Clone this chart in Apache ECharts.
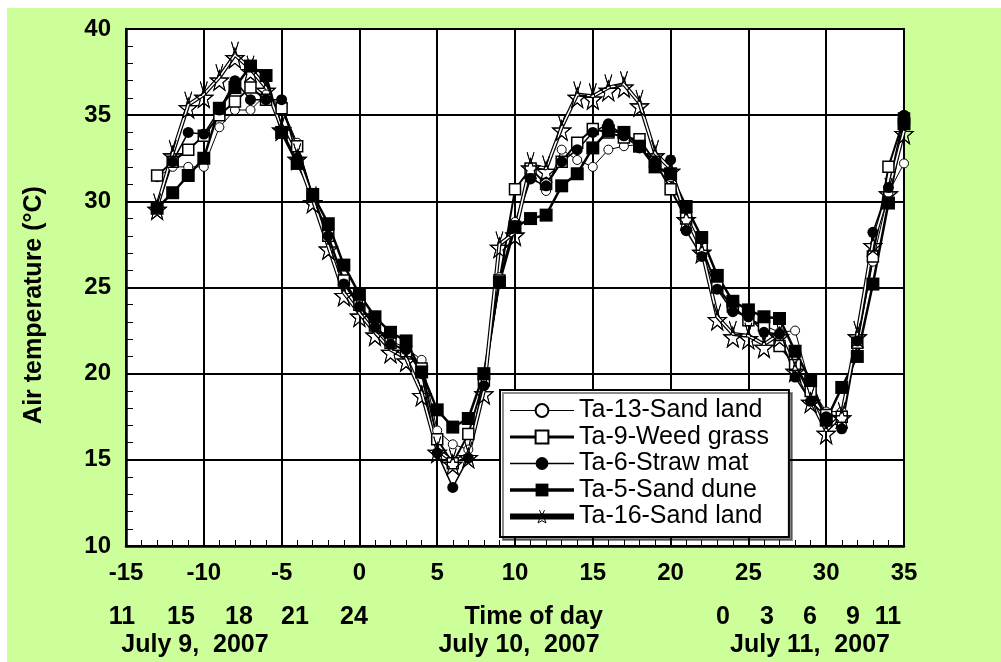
<!DOCTYPE html>
<html>
<head>
<meta charset="utf-8">
<title>Air temperature</title>
<script src="https://cdn.jsdelivr.net/npm/echarts@6/dist/echarts.min.js"></script>
<style>
  html, body { margin: 0; padding: 0; background: #fff; }
  #main { width: 1001px; height: 662px; }
</style>
</head>
<body>
<div id="main"></div>
<script>
var chart = echarts.init(document.getElementById('main'));

// hour index (x axis)
var hourX = [-13, -12, -11, -10, -9, -8, -7, -6, -5, -4, -3, -2, -1, 0, 1, 2, 3, 4, 5, 6, 7, 8, 9, 10,
    11, 12, 13, 14, 15, 16, 17, 18, 19, 20, 21, 22, 23, 24, 25, 26, 27, 28, 29, 30, 31, 32, 33, 34, 35];

var ta13 = [31.4, 32.0, 32.0, 32.0, 34.3, 35.3, 35.3, 36.2, 35.5, 33.4, 30.3, 28.0, 25.3, 23.9, 22.8, 21.9,
    21.5, 20.8, 16.7, 15.9, 15.6, 19.5, 25.6, 28.8, 31.6, 30.6, 33.0, 32.4, 32.0, 33.0, 33.2, 33.3, 32.1,
    31.4, 29.0, 27.4, 25.0, 23.8, 23.2, 22.8, 22.4, 22.5, 19.2, 17.8, 17.8, 21.8, 26.5, 30.5, 32.2];
var ta9 = [31.5, 32.3, 33.0, 33.8, 35.0, 35.8, 36.6, 35.9, 35.4, 33.2, 30.3, 28.0, 25.4, 24.0, 22.8, 21.8,
    21.3, 20.3, 16.2, 14.8, 16.5, 19.6, 25.4, 30.7, 31.9, 31.0, 32.3, 33.4, 34.2, 34.0, 33.7, 33.6, 32.3,
    30.7, 29.0, 27.3, 25.0, 23.9, 23.1, 22.8, 21.6, 20.5, 19.0, 17.6, 17.5, 21.8, 26.8, 32.0, 34.8];
var ta6 = [29.6, 32.3, 34.0, 33.9, 35.3, 37.0, 35.9, 35.9, 35.9, 32.5, 30.3, 28.0, 25.2, 23.9, 22.7, 21.7,
    21.4, 20.0, 15.4, 13.4, 15.1, 19.3, 25.3, 28.6, 31.3, 30.9, 32.3, 33.0, 34.0, 34.5, 33.8, 33.1, 32.3,
    32.4, 28.3, 26.8, 24.9, 23.6, 23.3, 22.4, 22.3, 19.8, 18.4, 17.5, 16.8, 21.9, 28.2, 30.8, 35.0];
var ta5 = [29.6, 30.5, 31.5, 32.5, 35.4, 36.6, 37.85, 37.3, 34.0, 32.2, 30.4, 28.7, 26.3, 24.6, 23.3, 22.4,
    21.9, 20.1, 17.9, 16.9, 17.4, 20.0, 25.3, 28.5, 29.0, 29.2, 30.9, 31.6, 33.1, 34.1, 34.0, 33.2, 32.0,
    31.6, 29.7, 27.9, 25.7, 24.2, 23.7, 23.3, 23.2, 21.3, 19.6, 17.3, 19.2, 21.0, 25.2, 29.9, 34.5];
var ta16 = [29.7, 32.8, 35.6, 36.2, 37.2, 38.5, 37.7, 36.6, 34.3, 32.6, 30.1, 27.4, 24.7, 23.5, 22.4, 21.4,
    20.9, 18.9, 15.6, 14.9, 15.3, 19.0, 27.5, 28.2, 32.1, 31.9, 34.3, 36.2, 36.1, 36.6, 36.8, 35.7, 32.8,
    31.9, 29.1, 27.2, 23.3, 22.3, 22.2, 21.7, 22.3, 20.3, 18.5, 16.7, 17.6, 22.3, 27.6, 30.6, 34.1];

var seriesNames = ['Ta-13-Sand land', 'Ta-9-Weed grass', 'Ta-6-Straw mat', 'Ta-5-Sand dune', 'Ta-16-Sand land'];

// clock hours under the axis, anchored at x-axis values
var hourAt = [-15.26, -11.47, -7.74, -4.14, -0.35, 23.37, 26.2, 28.96, 31.72, 33.97];
var hourText = ['11', '15', '18', '21', '24', '0', '3', '6', '9', '11'];
var dateAt = [-10.57, 10.26, 28.96];
var dateText = ['July 9,  2007', 'July 10,  2007', 'July 11,  2007'];
var timeTitleAt = 11.2;
var timeTitle = 'Time of day';

function pairs(ys) {
    return hourX.map(function (x, i) { return [x, ys[i]]; });
}

var FONT = '"Liberation Sans", Arial, sans-serif';
var starPath = 'path://M50 24L58.8 49.9L86.1 50.3L64.3 66.6L72.3 92.7L50 77L27.7 92.7L35.7 66.6L13.9 50.3L41.2 49.9Z M50 42L36 2 M50 42L64 2';
var starSize = [18, 26];
var legendWidths = [1, 3, 1.5, 3.5, 6];
var hollowStar = { color: 'rgba(255,255,255,0)', borderColor: '#000', borderWidth: 1 };

var option = {
    animation: false,
    backgroundColor: '#fff',
    grid: {
        left: 126, top: 29, right: 97, bottom: 116,
        show: true, backgroundColor: '#fff', borderColor: '#000', borderWidth: 2,
        outerBoundsMode: 'none'
    },
    legend: {
        data: seriesNames.map(function (n, i) {
            var item = { name: n, lineStyle: { width: legendWidths[i], color: '#000' } };
            if (i === 4) { item.itemStyle = hollowStar; }
            return item;
        }),
        orient: 'vertical',
        left: 500, top: 390,
        itemWidth: 64, itemHeight: 16, itemGap: 1.5,
        padding: [8, 20, 8, 7],
        backgroundColor: '#fff',
        borderColor: '#000', borderWidth: 2,
        shadowColor: 'rgba(0,0,0,0.45)', shadowOffsetX: 3, shadowOffsetY: 3, shadowBlur: 0,
        textStyle: { fontFamily: FONT, fontSize: 25, color: '#000', lineHeight: 24 }
    },
    xAxis: {
        type: 'value', min: -15, max: 35, interval: 5,
        axisLine: { onZero: false, lineStyle: { color: '#000', width: 2.5 } },
        axisTick: { inside: true, length: 6, lineStyle: { color: '#000', width: 1 } },
        minorTick: { show: true, splitNumber: 5, length: 6, lineStyle: { color: '#000', width: 1 } },
        splitLine: { show: true, lineStyle: { color: '#000', width: 2 } },
        axisLabel: { margin: 15, fontFamily: FONT, fontSize: 24, fontWeight: 'bold', color: '#000' }
    },
    yAxis: {
        type: 'value', min: 10, max: 40, interval: 5,
        axisLine: { show: true, onZero: false, lineStyle: { color: '#000', width: 2.5 } },
        axisTick: { show: true, inside: true, length: 7, lineStyle: { color: '#000', width: 1 } },
        minorTick: { show: true, splitNumber: 5, length: 7, lineStyle: { color: '#000', width: 1 } },
        splitLine: { show: true, lineStyle: { color: '#000', width: 2 } },
        axisLabel: { margin: 15, fontFamily: FONT, fontSize: 24, fontWeight: 'bold', color: '#000' }
    },
    series: [
        {
            name: seriesNames[0], type: 'line', data: pairs(ta13), clip: false,
            symbol: 'circle', symbolSize: 9,
            lineStyle: { color: '#000', width: 1 },
            itemStyle: { color: '#fff', borderColor: '#000', borderWidth: 1 }
        },
        {
            name: seriesNames[1], type: 'line', data: pairs(ta9), clip: false,
            symbol: 'rect', symbolSize: 11,
            lineStyle: { color: '#000', width: 2 },
            itemStyle: { color: '#fff', borderColor: '#000', borderWidth: 1.5 }
        },
        {
            name: seriesNames[2], type: 'line', data: pairs(ta6), clip: false,
            symbol: 'circle', symbolSize: 11,
            lineStyle: { color: '#000', width: 1.5 },
            itemStyle: { color: '#000', borderColor: '#000', borderWidth: 0 }
        },
        {
            name: seriesNames[3], type: 'line', data: pairs(ta5), clip: false,
            symbol: 'rect', symbolSize: 13,
            lineStyle: { color: '#000', width: 2.5 },
            itemStyle: { color: '#000', borderColor: '#000', borderWidth: 0 }
        },
        {
            name: seriesNames[4], type: 'line', data: pairs(ta16), clip: false,
            symbol: starPath, symbolSize: starSize,
            lineStyle: { color: '#000', width: 4 },
            itemStyle: hollowStar
        },
        {
            name: 'ta16-inner', type: 'line', data: pairs(ta16), clip: false,
            symbol: 'none', silent: true,
            lineStyle: { color: '#fff', width: 1.6 }
        },
        {
            name: 'ta16-marks', type: 'line', data: pairs(ta16), clip: false,
            symbol: starPath, symbolSize: starSize, silent: true,
            lineStyle: { width: 0, opacity: 0 },
            itemStyle: hollowStar
        }
    ]
};

chart.setOption(option);

function px(v) { return chart.convertToPixel({ xAxisIndex: 0 }, v); }

var textStyle = function (t, x, y) {
    return {
        type: 'text', x: x, y: y,
        style: { text: t, fontFamily: FONT, fontSize: 25, fontWeight: 'bold', fill: '#000',
                 align: 'center', verticalAlign: 'middle' }
    };
};

var graphics = [
    { type: 'rect', z: -10, silent: true, shape: { x: 7, y: 8, width: 994, height: 654 }, style: { fill: '#ccff99' } },
    {
        type: 'text', x: 34, y: 305, rotation: Math.PI / 2,
        style: { text: 'Air temperature (°C)', fontFamily: FONT, fontSize: 25, fontWeight: 'bold', fill: '#000',
                 align: 'center', verticalAlign: 'middle' }
    }
];
hourAt.forEach(function (v, i) { graphics.push(textStyle(hourText[i], px(v), 617)); });
dateAt.forEach(function (v, i) { graphics.push(textStyle(dateText[i], px(v), 645)); });
graphics.push(textStyle(timeTitle, px(timeTitleAt), 617));

chart.setOption({ graphic: graphics });
</script>
</body>
</html>
